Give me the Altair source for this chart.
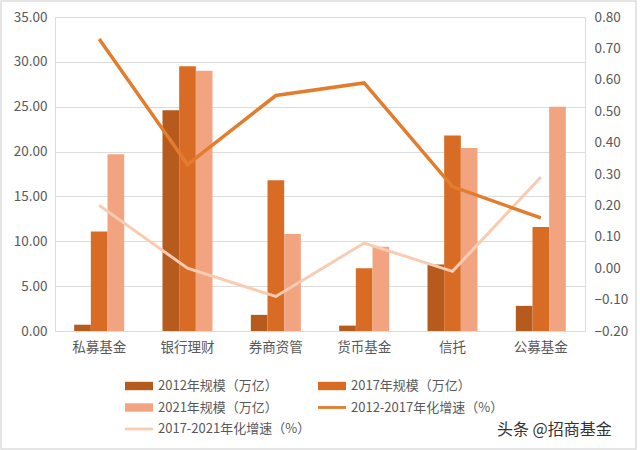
import altair as alt
import pandas as pd

categories = ["私募基金", "银行理财", "券商资管", "货币基金", "信托", "公募基金"]
bar_series = ["2012年规模（万亿）", "2017年规模（万亿）", "2021年规模（万亿）"]
line_series = ["2012-2017年化增速（%）", "2017-2021年化增速（%）"]
legend_order = ["2012年规模（万亿）", "2017年规模（万亿）", "2021年规模（万亿）",
                "2012-2017年化增速（%）", "2017-2021年化增速（%）"]

size_2012 = [0.7, 24.6, 1.8, 0.6, 7.4, 2.8]
size_2017 = [11.1, 29.5, 16.8, 7.0, 21.8, 11.6]
size_2021 = [19.7, 29.0, 10.8, 9.4, 20.4, 25.0]
growth_12_17 = [0.73, 0.33, 0.55, 0.59, 0.26, 0.16]
growth_17_21 = [0.20, 0.00, -0.09, 0.08, -0.01, 0.29]

left_ticks = [0, 5, 10, 15, 20, 25, 30, 35]
right_ticks = [-0.2, -0.1, 0.0, 0.1, 0.2, 0.3, 0.4, 0.5, 0.6, 0.7, 0.8]

colors = ["#b65a1e", "#d96c24", "#f2a481", "#e27d2e", "#f7ccb3"]
shapes = ["M-1,-0.3H1V0.3H-1Z", "M-1,-0.3H1V0.3H-1Z", "M-1,-0.3H1V0.3H-1Z",
          "M-1,-0.1H1V0.1H-1Z", "M-1,-0.1H1V0.1H-1Z"]

FONT = "Noto Sans CJK SC"
TXT = "#595959"

rows = []
for s, vals in zip(bar_series, [size_2012, size_2017, size_2021]):
    for c, v in zip(categories, vals):
        rows.append({"cat": c, "series": s, "value": v})
bars_df = pd.DataFrame(rows)

lrows = []
for s, vals in zip(line_series, [growth_12_17, growth_17_21]):
    for c, v in zip(categories, vals):
        lrows.append({"cat": c, "series": s, "rate": v})
lines_df = pd.DataFrame(lrows)

color_scale = alt.Scale(domain=legend_order, range=colors)
x_enc = alt.X("cat:N", sort=categories,
              scale=alt.Scale(paddingInner=0.434, paddingOuter=0.217),
              axis=alt.Axis(title=None, labelAngle=0, domain=False, ticks=False,
                            labelPadding=9, labelFontSize=13.5, labelColor=TXT,
                            labelFont=FONT))

bars = alt.Chart(bars_df).mark_bar().encode(
    x=x_enc,
    xOffset=alt.XOffset("series:N", sort=bar_series,
                        scale=alt.Scale(paddingInner=0, paddingOuter=0)),
    y=alt.Y("value:Q", scale=alt.Scale(domain=[0, 35]),
            axis=alt.Axis(title=None, values=left_ticks, format=".2f", grid=True,
                          gridColor="#dcdcdc", domain=False, ticks=False,
                          labelPadding=8, labelFontSize=13.5, labelColor=TXT,
                          labelFont=FONT)),
    color=alt.Color("series:N", scale=color_scale),
)

right_axis = alt.Axis(title=None, orient="right", values=right_ticks, format=".2f",
                      grid=False, domain=False, ticks=False, labelPadding=9,
                      labelFontSize=13.5, labelColor=TXT, labelFont=FONT)

line2 = alt.Chart(lines_df).transform_filter(
    alt.datum.series == line_series[1]
).mark_line(strokeWidth=3).encode(
    x=alt.X("cat:N", sort=categories),
    y=alt.Y("rate:Q", scale=alt.Scale(domain=[-0.2, 0.8]), axis=right_axis),
    color=alt.Color("series:N", scale=color_scale),
)
line1 = alt.Chart(lines_df).transform_filter(
    alt.datum.series == line_series[0]
).mark_line(strokeWidth=3.5).encode(
    x=alt.X("cat:N", sort=categories),
    y=alt.Y("rate:Q", scale=alt.Scale(domain=[-0.2, 0.8]), axis=right_axis),
    color=alt.Color("series:N", scale=color_scale),
)
lines = alt.layer(line2, line1)

legend_cfg = dict(title=None, orient="none", legendX=70, legendY=355, columns=2,
                  direction="horizontal",
                  columnPadding=7, rowPadding=0.5, symbolSize=784,
                  symbolStrokeWidth=0, labelOffset=5, labelFontSize=13,
                  labelColor=TXT, labelFont=FONT, labelLimit=300)

legend_df = pd.DataFrame({"series": legend_order})
dummy = alt.Chart(legend_df).transform_filter("false").mark_point(
    filled=True, opacity=1
).encode(
    color=alt.Color("series:N", scale=color_scale, legend=alt.Legend(**legend_cfg)),
    shape=alt.Shape("series:N", scale=alt.Scale(domain=legend_order, range=shapes),
                    legend=alt.Legend(**legend_cfg)),
)

wm_df = pd.DataFrame({"t": ["头条 @招商基金"]})
watermark = alt.Chart(wm_df).mark_text(
    align="left", baseline="middle", fontSize=16, font=FONT, color="#333333"
).encode(text="t:N", x=alt.value(442), y=alt.value(413))

border = alt.Chart(wm_df).mark_rect(
    fill=None, stroke="#dddddd", strokeWidth=1.5
).encode(x=alt.value(-54), x2=alt.value(581), y=alt.value(-16), y2=alt.value(432))

chart = alt.layer(dummy, border, bars, lines, watermark).resolve_scale(
    y="independent"
).properties(
    width=530, height=314,
    autosize=alt.AutoSizeParams(type="none"),
    padding={"left": 55, "top": 17, "right": 55, "bottom": 119},
).configure_view(stroke=None).configure(
    background="white", font=FONT
).configure_legend(labelFont=FONT)

chart.save("out.html", embed_options={"renderer": "svg", "actions": False})
